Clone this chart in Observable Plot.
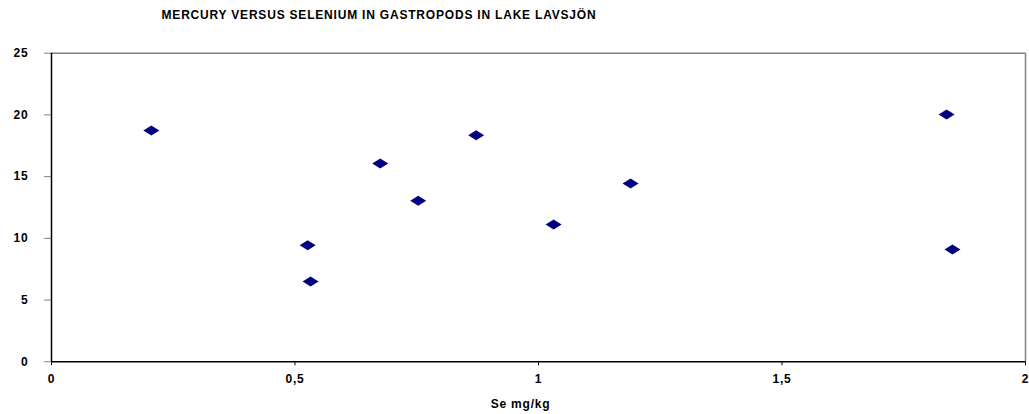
<!DOCTYPE html>
<html>
<head>
<meta charset="utf-8">
<script src="https://cdn.jsdelivr.net/npm/d3@7"></script>
<script src="https://cdn.jsdelivr.net/npm/@observablehq/plot@0.6"></script>
<style>
  body { margin: 0; background: #fff; font-family: "Liberation Sans", Arial, sans-serif; }
  #title { width: 758px; height: 30px; line-height: 30px; text-align: center; font-weight: bold; font-size: 12px; letter-spacing: 0.8px; color: #000; }
  svg { font-family: "Liberation Sans", Arial, sans-serif; font-weight: bold; letter-spacing: 0.8px; }
</style>
</head>
<body>
<div id="title"></div>
<div id="chart"></div>
<script>
const titleText = "MERCURY VERSUS SELENIUM IN GASTROPODS IN LAKE LAVSJÖN";
const xLabel = "Se mg/kg";
const seValues = [0.205, 0.526, 0.532, 0.675, 0.753, 0.872, 1.031, 1.189, 1.838, 1.850];
const hgValues = [18.74, 9.45, 6.51, 16.07, 13.05, 18.36, 11.13, 14.45, 20.04, 9.10];
const xTicks = [0, 0.5, 1, 1.5, 2];
const yTicks = [0, 5, 10, 15, 20, 25];

document.getElementById("title").textContent = titleText;

const data = seValues.map((se, i) => ({se, hg: hgValues[i]}));

// flattened diamond marker (Excel style)
const flatDiamond = {
  draw(context, size) {
    const w = 8, h = 5;
    context.moveTo(-w, 0);
    context.lineTo(0, -h);
    context.lineTo(w, 0);
    context.lineTo(0, h);
    context.closePath();
  }
};

const fmt = d => String(d).replace(".", ",");

const chart = Plot.plot({
  width: 1029,
  height: 384,
  marginTop: 22.7,
  marginBottom: 52.7,
  marginLeft: 51,
  marginRight: 4,
  style: {fontSize: "12px", fontWeight: "bold", fontFamily: "Liberation Sans, Arial, sans-serif", color: "#000"},
  x: {domain: [0, 2]},
  y: {domain: [0, 25]},
  marks: [
    Plot.ruleY([25], {stroke: "#808080", strokeWidth: 1.5}),
    Plot.ruleX([2], {stroke: "#808080", strokeWidth: 1.5}),
    Plot.axisY({ticks: yTicks, tickSize: 7, tickPadding: 16, stroke: "#808080", strokeOpacity: 1, label: null, fill: "#000"}),
    Plot.axisX({ticks: xTicks, tickSize: 4, tickPadding: 9, tickFormat: fmt, stroke: "#000", strokeOpacity: 1, label: null, fill: "#000"}),
    Plot.text([xLabel], {frameAnchor: "bottom", text: d => d, dx: -18, dy: 46.4, lineAnchor: "bottom", fill: "#000", fontWeight: "bold", fontSize: 12}),
    Plot.ruleX([0], {stroke: "#000", strokeWidth: 1.5}),
    Plot.ruleY([0], {stroke: "#000", strokeWidth: 1.5}),
    Plot.dot(data, {x: "se", y: "hg", symbol: flatDiamond, fill: "#000080", stroke: "none", r: 5})
  ]
});
document.getElementById("chart").appendChild(chart);
</script>
</body>
</html>
